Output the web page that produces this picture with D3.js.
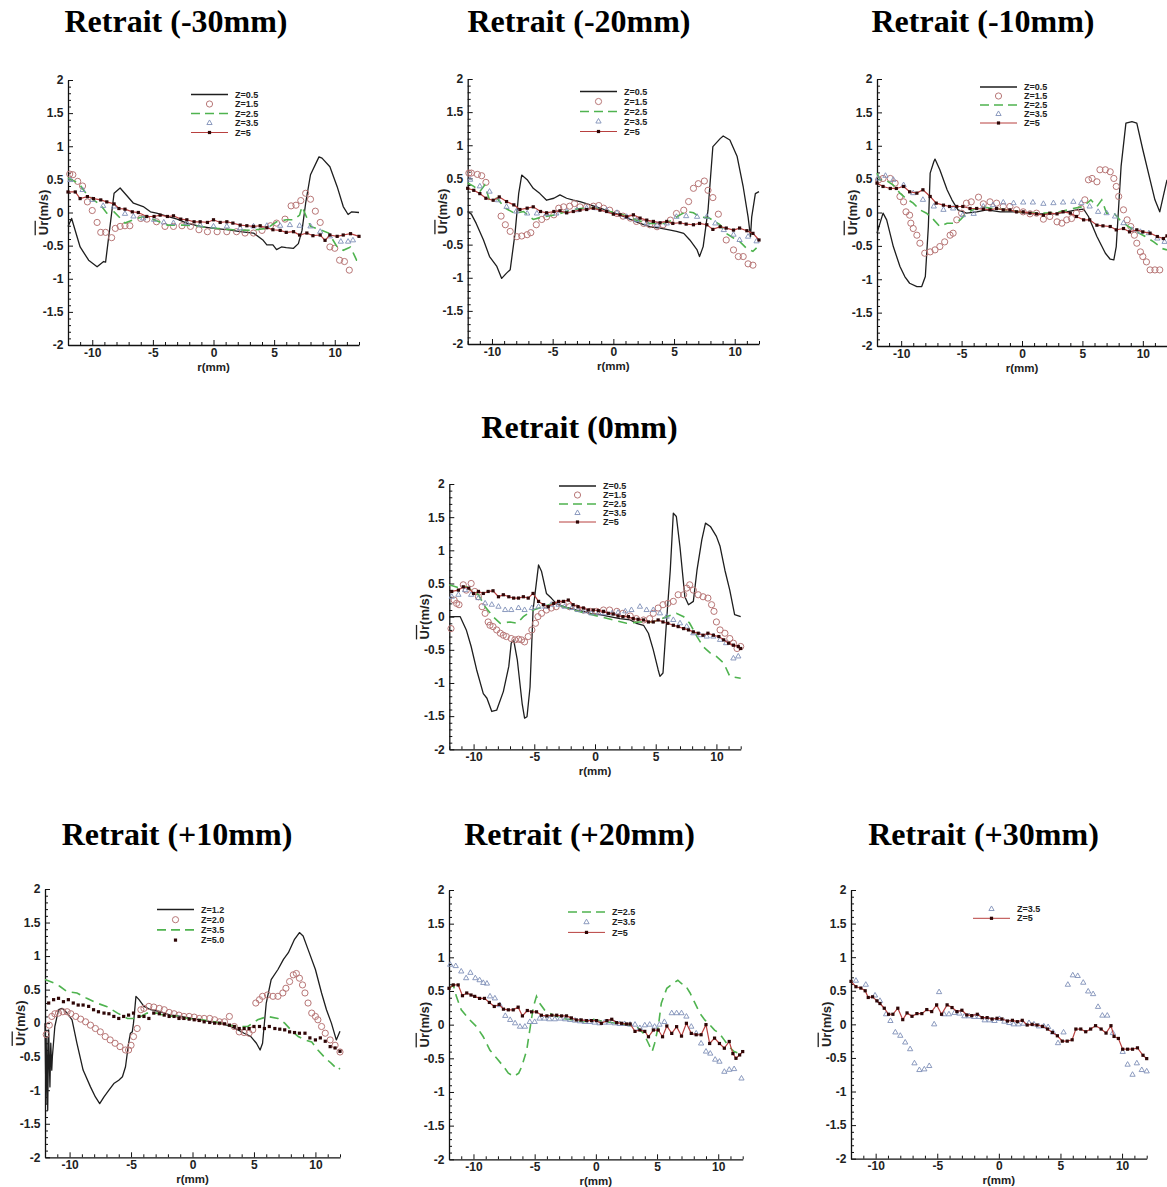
<!DOCTYPE html>
<html><head><meta charset="utf-8">
<script src="https://cdn.jsdelivr.net/npm/d3@7"></script>
<style>body{margin:0;background:#fff}</style>
</head><body>
<svg id="c" width="1167" height="1187" xmlns="http://www.w3.org/2000/svg"></svg>
<script>
// ---------------- DATA ----------------
const panelTitles = ["Retrait (-30mm)","Retrait (-20mm)","Retrait (-10mm)","Retrait (0mm)","Retrait (+10mm)","Retrait (+20mm)","Retrait (+30mm)"];
const xTickValues = [-10,-5,0,5,10];
const xTickLabels = ["-10","-5","0","5","10"];
const yTickValues = [-2,-1.5,-1,-0.5,0,0.5,1,1.5,2];
const yTickLabels = ["-2","-1.5","-1","-0.5","0","0.5","1","1.5","2"];
const xLabel = "r(mm)";

// Panel 1 : Retrait (-30mm)
const p1_z05 = [[-12,-0.21],[-11.7,-0.09],[-11,-0.52],[-10.3,-0.72],[-9.6,-0.82],[-9.06,-0.74],[-8.9,-0.75],[-8.2,0.29],[-7.7,0.37],[-6.6,0.14],[-5.8,0.09],[-5.2,0.01],[-4.7,-0.01],[-3.8,-0.06],[-3.0,-0.1],[-2.2,-0.16],[-1.1,-0.21],[0,-0.24],[1.1,-0.26],[2.2,-0.29],[3.3,-0.31],[4.1,-0.42],[4.4,-0.49],[4.9,-0.49],[5.2,-0.56],[5.6,-0.52],[6.0,-0.53],[6.6,-0.54],[7.0,-0.47],[7.3,-0.27],[7.6,0.14],[8.0,0.57],[8.7,0.84],[8.95,0.82],[9.6,0.69],[10.2,0.39],[10.7,0.09],[11.1,-0.03],[11.4,0.01],[12,0]];
const p1_z15 = [[-11.86,0.58],[-11.6,0.57],[-11.2,0.47],[-10.8,0.4],[-10.4,0.16],[-10,0.03],[-9.6,-0.15],[-9.3,-0.3],[-8.9,-0.3],[-8.4,-0.38],[-8.1,-0.24],[-7.7,-0.21],[-7.3,-0.2],[-6.9,-0.2],[-6.0,-0.09],[-5.5,-0.1],[-4.7,-0.14],[-4.0,-0.21],[-3.3,-0.21],[-2.6,-0.2],[-1.9,-0.21],[-1.2,-0.26],[-0.5,-0.29],[0.3,-0.29],[1.1,-0.29],[1.9,-0.29],[2.6,-0.31],[3.3,-0.31],[4.0,-0.27],[4.7,-0.2],[5.2,-0.16],[5.9,-0.1],[6.4,0.1],[6.8,0.11],[7.2,0.18],[7.6,0.29],[8.0,0.2],[8.4,0.02],[8.8,-0.15],[9.6,-0.52],[10.0,-0.54],[10.4,-0.72],[10.8,-0.74],[11.2,-0.87]];
const p1_z25 = [[-12,0.52],[-11.1,0.44],[-10.6,0.31],[-9.9,0.19],[-9.3,0.11],[-8.8,-0.01],[-8.2,0.01],[-7.3,-0.16],[-6.6,-0.11],[-5.8,-0.06],[-4.9,-0.11],[-3.8,-0.19],[-2.4,-0.19],[-1.1,-0.21],[0.3,-0.24],[1.6,-0.26],[3.0,-0.27],[4.4,-0.24],[5.2,-0.14],[6.0,-0.11],[6.6,-0.11],[7.1,-0.04],[7.3,0.09],[8.0,-0.21],[8.8,-0.26],[9.5,-0.31],[10.2,-0.52],[10.7,-0.57],[11.3,-0.52],[11.8,-0.72],[12,-0.72]];
const p1_z35 = [[-11.8,0.49],[-10.8,0.34],[-10.0,0.19],[-9.1,0.1],[-8.2,0.09],[-7.3,-0.02],[-6.6,-0.06],[-5.8,-0.09],[-4.9,-0.11],[-4.1,-0.15],[-3.3,-0.16],[-2.2,-0.16],[-1.1,-0.19],[0,-0.21],[1.1,-0.21],[2.2,-0.24],[3.3,-0.21],[4.4,-0.2],[5.5,-0.2],[6.3,-0.19],[7.1,-0.2],[8.0,-0.21],[8.8,-0.29],[9.6,-0.36],[10.5,-0.44],[11.1,-0.44],[11.5,-0.42]];
const p1_z5 = [[-12,0.31],[-11.4,0.31],[-11,0.21],[-10.4,0.24],[-9.9,0.21],[-9.3,0.19],[-8.8,0.16],[-8.2,0.13],[-7.8,0.06],[-7.3,0.05],[-6.7,0.01],[-6.2,0],[-5.5,-0.06],[-4.9,-0.06],[-4.4,-0.04],[-3.8,-0.06],[-3.3,-0.05],[-2.7,-0.1],[-2.2,-0.11],[-1.6,-0.14],[-1.1,-0.14],[-0.5,-0.15],[0,-0.11],[0.55,-0.15],[1.1,-0.14],[1.6,-0.16],[2.2,-0.19],[2.75,-0.2],[3.3,-0.21],[3.85,-0.2],[4.4,-0.23],[4.9,-0.26],[5.5,-0.27],[6.0,-0.3],[6.6,-0.29],[7.1,-0.34],[7.7,-0.31],[8.2,-0.35],[8.8,-0.34],[9.2,-0.42],[9.6,-0.34],[10.2,-0.36],[10.7,-0.34],[11.3,-0.32],[12,-0.36]];

// Panel 2 : Retrait (-20mm)
const p2_z05 = [[-12,0],[-11.7,-0.04],[-11.3,-0.18],[-10.7,-0.43],[-10.2,-0.68],[-9.6,-0.83],[-9.2,-1.01],[-8.8,-0.93],[-8.5,-0.88],[-8.1,-0.33],[-7.8,0.27],[-7.55,0.55],[-7.1,0.48],[-6.6,0.35],[-6.05,0.27],[-5.5,0.17],[-4.9,0.2],[-4.4,0.25],[-3.85,0.2],[-3.3,0.17],[-2.75,0.15],[-1.9,0.1],[-1.1,0.05],[-0.27,0],[0.55,-0.05],[1.4,-0.12],[2.2,-0.18],[3.0,-0.23],[3.85,-0.25],[4.7,-0.28],[5.2,-0.3],[5.8,-0.33],[6.3,-0.43],[6.9,-0.58],[7.1,-0.68],[7.4,-0.53],[7.8,0.02],[8.2,0.98],[8.8,1.1],[9.05,1.14],[9.6,1.08],[10.2,0.83],[10.7,0.37],[11.1,-0.08],[11.3,-0.38],[11.4,-0.08],[11.7,0.27],[12,0.3]];
const p2_z15 = [[-11.9,0.58],[-11.7,0.58],[-11.2,0.56],[-10.85,0.54],[-10.5,0.44],[-9.25,-0.07],[-8.9,-0.2],[-8.5,-0.3],[-7.95,-0.38],[-7.55,-0.37],[-7.1,-0.35],[-6.8,-0.32],[-6.35,-0.2],[-5.9,-0.12],[-5.5,-0.08],[-4.9,-0.05],[-4.5,0.05],[-4.1,0.07],[-3.6,0.08],[-3.2,0.12],[-2.75,0.07],[-2.2,0.07],[-1.65,0.08],[-1.2,0.09],[-0.8,0.05],[-0.3,0.02],[0.3,-0.03],[0.8,-0.07],[1.4,-0.1],[1.9,-0.15],[2.5,-0.18],[3.0,-0.2],[3.6,-0.23],[4.1,-0.2],[4.7,-0.13],[5.2,-0.03],[5.8,0.02],[6.2,0.15],[6.6,0.35],[7.0,0.42],[7.5,0.46],[7.8,0.32],[8.2,0.21],[8.65,-0.04],[9.3,-0.43],[9.9,-0.58],[10.3,-0.68],[10.7,-0.68],[11.1,-0.79],[11.5,-0.81]];
const p2_z25 = [[-12,0.43],[-11.5,0.38],[-11,0.3],[-10.6,0.4],[-10.2,0.17],[-9.6,0.2],[-8.9,0.05],[-8.1,-0.03],[-7.4,0],[-6.6,-0.12],[-5.8,-0.08],[-4.7,-0.05],[-3.6,0.02],[-2.5,0.05],[-1.4,0.05],[-0.3,0],[0.8,-0.05],[1.9,-0.13],[3.0,-0.18],[4.1,-0.18],[4.9,-0.13],[5.5,-0.05],[6.0,0],[6.6,-0.02],[7.1,-0.08],[7.9,-0.1],[8.8,-0.2],[9.3,-0.33],[9.9,-0.4],[10.4,-0.45],[11.0,-0.56],[11.5,-0.6],[11.8,-0.55]];
const p2_z35 = [[-11.8,0.48],[-11,0.38],[-10.2,0.3],[-9.5,0.17],[-8.8,0.07],[-8,0],[-7.1,-0.03],[-6.3,-0.03],[-5.5,-0.04],[-4.7,-0.03],[-3.85,0],[-3,0.02],[-2.2,0.05],[-1.4,0.05],[-0.55,0.02],[0.3,-0.02],[1.1,-0.08],[1.9,-0.13],[2.75,-0.18],[3.6,-0.2],[4.4,-0.18],[5.2,-0.08],[6.0,-0.07],[6.9,-0.08],[7.7,-0.08],[8.4,-0.18],[9.1,-0.28],[9.9,-0.35],[10.4,-0.43],[11.1,-0.38],[11.8,-0.45]];
const p2_z5 = [[-12,0.35],[-11.5,0.32],[-11,0.27],[-10.5,0.2],[-9.9,0.17],[-9.4,0.22],[-8.8,0.15],[-8.2,0.1],[-7.7,0.03],[-7.1,0.05],[-6.6,0.07],[-6,0],[-5.5,-0.02],[-4.9,0],[-4.4,0.01],[-3.85,-0.02],[-3.3,0],[-2.75,0.02],[-2.2,0.03],[-1.65,0.05],[-1.1,0.02],[-0.55,0],[0,-0.04],[0.55,-0.05],[1.1,-0.08],[1.65,-0.05],[2.2,-0.1],[2.75,-0.13],[3.3,-0.15],[3.85,-0.17],[4.4,-0.15],[4.9,-0.18],[5.5,-0.17],[6.0,-0.19],[6.6,-0.2],[7.1,-0.18],[7.7,-0.2],[8.2,-0.27],[8.8,-0.23],[9.3,-0.25],[9.9,-0.28],[10.4,-0.25],[11.0,-0.29],[11.5,-0.33],[12,-0.43]];

// Panel 3 : Retrait (-10mm)
const p3_z05 = [[-12,-0.31],[-11.75,-0.16],[-11.5,-0.01],[-11.2,-0.11],[-10.65,-0.51],[-10.1,-0.81],[-9.7,-0.96],[-9.3,-1.06],[-8.7,-1.11],[-8.3,-1.11],[-8.0,-0.96],[-7.75,-0.21],[-7.6,0.59],[-7.3,0.76],[-7.2,0.8],[-6.8,0.64],[-6.2,0.34],[-5.8,0.19],[-5.3,0.04],[-4.6,-0.01],[-3.75,0.01],[-2.9,0.04],[-1.8,0.01],[-0.7,0.01],[0.4,-0.01],[1.5,-0.02],[2.6,-0.02],[3.7,0.01],[4.5,0.04],[5.1,0.05],[5.5,-0.06],[6.2,-0.36],[6.9,-0.61],[7.3,-0.7],[7.6,-0.71],[7.8,-0.51],[8.2,0.69],[8.6,1.34],[9.1,1.36],[9.5,1.34],[10.0,0.94],[10.6,0.49],[11.0,0.19],[11.4,0.01],[11.75,0.29],[12,0.49]];
const p3_z15 = [[-11.86,0.49],[-11.5,0.51],[-10.9,0.51],[-10.5,0.44],[-10.1,0.24],[-9.8,0.16],[-9.6,0.01],[-9.3,-0.04],[-9.2,-0.16],[-9.0,-0.24],[-8.7,-0.34],[-8.45,-0.46],[-8.05,-0.61],[-7.6,-0.59],[-7.2,-0.56],[-6.8,-0.51],[-6.4,-0.44],[-5.95,-0.34],[-5.7,-0.31],[-5.4,-0.11],[-5.0,-0.01],[-4.6,0.14],[-4.2,0.16],[-3.6,0.23],[-3.2,0.13],[-2.65,0.16],[-2.1,0.14],[-1.55,0.09],[-1.0,0.09],[-0.45,0.04],[0.1,0.01],[0.66,-0.02],[1.2,-0.01],[1.77,-0.1],[2.3,-0.06],[2.9,-0.14],[3.3,-0.16],[3.7,-0.11],[4.1,-0.09],[4.5,-0.01],[4.9,0.06],[5.2,0.19],[5.5,0.49],[5.8,0.51],[6.2,0.46],[6.45,0.64],[6.9,0.64],[7.3,0.61],[7.6,0.51],[7.8,0.39],[8.0,0.24],[8.4,0.04],[8.7,-0.11],[9.0,-0.21],[9.3,-0.34],[9.5,-0.46],[9.8,-0.59],[10.0,-0.66],[10.3,-0.74],[10.6,-0.86],[11.0,-0.86],[11.4,-0.86]];
const p3_z25 = [[-12,0.59],[-11.75,0.49],[-11.3,0.49],[-10.65,0.41],[-10.1,0.29],[-9.6,0.21],[-9.0,0.14],[-8.45,0.04],[-7.9,-0.01],[-7.3,-0.11],[-6.8,-0.21],[-6.2,-0.16],[-5.7,-0.16],[-5.1,-0.11],[-4.6,-0.01],[-3.5,0.09],[-2.4,0.06],[-1.3,0.04],[-0.2,0.01],[0.9,-0.01],[2.0,-0.01],[3.1,0.01],[4.2,0.06],[5.1,0.09],[5.7,0.19],[6.2,0.09],[6.6,0.19],[7.0,-0.01],[7.6,-0.01],[8.1,-0.11],[8.8,-0.21],[9.5,-0.29],[10.2,-0.36],[10.9,-0.44],[11.6,-0.54],[12,-0.56]];
const p3_z35 = [[-11.9,0.51],[-11.3,0.55],[-10.65,0.49],[-9.8,0.41],[-9.0,0.29],[-8.2,0.19],[-7.3,0.09],[-6.5,0.04],[-5.7,0.06],[-4.9,-0.04],[-4.0,-0.02],[-3.2,0.09],[-2.4,0.11],[-1.55,0.15],[-0.7,0.14],[0.1,0.15],[0.9,0.15],[1.77,0.13],[2.6,0.14],[3.4,0.15],[4.25,0.16],[4.9,0.14],[5.6,0.09],[6.3,0.01],[7.0,-0.01],[7.7,-0.06],[8.4,-0.16],[9.1,-0.26],[9.8,-0.29],[10.5,-0.31],[11.2,-0.39],[11.8,-0.44]];
const p3_z5 = [[-12,0.44],[-11.5,0.39],[-10.9,0.36],[-10.4,0.36],[-9.8,0.39],[-9.3,0.31],[-8.7,0.29],[-8.2,0.34],[-7.6,0.24],[-7.1,0.14],[-6.5,0.11],[-6.0,0.09],[-5.4,0.09],[-4.9,0.09],[-4.3,0.06],[-3.75,0.06],[-3.2,0.05],[-2.65,0.04],[-2.1,0.06],[-1.55,0.04],[-1.0,0.04],[-0.45,0.01],[0.1,0.01],[0.66,-0.01],[1.2,-0.02],[1.77,-0.04],[2.3,-0.01],[2.9,-0.02],[3.4,0.01],[4.0,-0.01],[4.5,-0.06],[5.1,-0.11],[5.6,-0.11],[6.2,-0.19],[6.7,-0.2],[7.3,-0.21],[7.8,-0.26],[8.4,-0.24],[8.9,-0.29],[9.5,-0.26],[10.0,-0.29],[10.6,-0.31],[11.2,-0.36],[11.7,-0.39],[12,-0.35]];

// Panel 4 : Retrait (0mm)
const p4_z05 = [[-12,0],[-11.1,0],[-10.6,-0.2],[-10.2,-0.45],[-9.75,-0.8],[-9.2,-1.16],[-8.9,-1.23],[-8.5,-1.43],[-8.1,-1.41],[-7.55,-1.13],[-7.1,-0.75],[-6.9,-0.4],[-6.7,-0.35],[-6.4,-0.65],[-6.0,-1.31],[-5.8,-1.53],[-5.6,-1.51],[-5.35,-1.06],[-5.1,0.1],[-4.65,0.78],[-4.4,0.68],[-4.0,0.35],[-3.6,0.28],[-3.2,0.2],[-2.6,0.15],[-2.1,0.13],[-1.5,0.1],[-0.96,0.08],[-0.4,0.05],[0.4,0.03],[1.2,0],[2.05,-0.03],[2.9,-0.05],[3.4,-0.1],[4.0,-0.13],[4.4,-0.25],[4.8,-0.5],[5.2,-0.8],[5.35,-0.9],[5.6,-0.85],[5.9,-0.05],[6.2,0.7],[6.45,1.56],[6.7,1.51],[7.0,1.05],[7.4,0.3],[7.7,0.18],[8.1,0.23],[8.4,0.7],[8.8,1.16],[9.1,1.41],[9.5,1.36],[10.0,1.21],[10.3,1.06],[10.7,0.7],[11.1,0.4],[11.5,0.03],[12,0]];
const p4_z15 = [[-11.86,-0.18],[-11.6,0.25],[-11.4,0.2],[-11.2,0.18],[-10.85,0.48],[-10.6,0.4],[-10.2,0.5],[-9.9,0.38],[-9.6,0.3],[-9.3,0.15],[-9.05,0.05],[-8.8,-0.08],[-8.65,-0.13],[-8.4,-0.15],[-8.1,-0.2],[-7.8,-0.25],[-7.55,-0.28],[-7.3,-0.3],[-6.9,-0.33],[-6.6,-0.35],[-6.3,-0.34],[-6.05,-0.35],[-5.8,-0.38],[-5.5,-0.3],[-5.2,-0.2],[-4.9,-0.1],[-4.7,0],[-4.4,0.05],[-4.0,0.1],[-3.6,0.13],[-3.2,0.15],[-2.6,0.18],[-2.1,0.15],[-1.5,0.13],[-0.96,0.1],[-0.4,0.08],[0.14,0.08],[0.7,0.1],[1.2,0.1],[1.8,0.08],[2.3,0.05],[2.9,0.01],[3.4,-0.03],[4.0,-0.05],[4.5,-0.03],[4.8,0.05],[5.2,0.13],[5.6,0.18],[6.0,0.2],[6.45,0.23],[6.85,0.33],[7.3,0.33],[7.55,0.43],[7.8,0.48],[8.1,0.4],[8.5,0.33],[8.9,0.3],[9.3,0.28],[9.6,0.18],[9.8,0.08],[10.0,-0.08],[10.3,-0.2],[10.7,-0.25],[11.1,-0.33],[11.4,-0.4],[11.7,-0.48],[12,-0.45]];
const p4_z25 = [[-12,0.48],[-11.1,0.43],[-10.6,0.45],[-10.2,0.4],[-9.6,0.33],[-9.05,0.15],[-8.4,0],[-7.8,-0.1],[-7.0,-0.08],[-6.4,-0.1],[-5.9,0],[-5.1,0.1],[-4.25,0.15],[-3.4,0.2],[-2.6,0.15],[-1.8,0.1],[-0.7,0.05],[0.4,0],[1.5,-0.05],[2.6,-0.1],[3.7,-0.08],[4.8,-0.08],[5.9,0],[6.7,0.05],[7.3,0],[7.8,-0.1],[8.4,-0.3],[8.9,-0.45],[9.5,-0.55],[10.0,-0.6],[10.6,-0.7],[11.1,-0.9],[12,-0.93]];
const p4_z35 = [[-11.8,0.3],[-11.25,0.33],[-10.7,0.4],[-10.2,0.33],[-9.6,0.28],[-9.05,0.2],[-8.5,0.18],[-7.95,0.15],[-7.4,0.1],[-6.9,0.1],[-6.3,0.13],[-5.8,0.1],[-5.2,0.13],[-4.65,0.15],[-4.1,0.15],[-3.6,0.18],[-3.0,0.18],[-2.5,0.15],[-1.9,0.13],[-1.4,0.1],[-0.8,0.08],[-0.3,0.05],[0.3,0.05],[0.8,0.05],[1.4,0.05],[1.9,0.06],[2.5,0.08],[3.0,0.1],[3.7,0.15],[4.25,0.1],[4.8,0.1],[5.35,0.05],[5.9,0],[6.45,-0.05],[7.0,-0.1],[7.55,-0.15],[8.1,-0.25],[8.65,-0.28],[9.2,-0.3],[9.75,-0.3],[10.3,-0.35],[10.8,-0.4],[11.4,-0.63],[11.8,-0.6]];
const p4_z5 = [[-11.8,0.38],[-11.25,0.4],[-10.85,0.45],[-10.4,0.43],[-10.0,0.35],[-9.6,0.38],[-9.2,0.35],[-8.8,0.38],[-8.4,0.39],[-7.95,0.3],[-7.55,0.33],[-7.1,0.3],[-6.7,0.28],[-6.3,0.28],[-5.9,0.3],[-5.5,0.28],[-5.1,0.35],[-4.65,0.23],[-4.25,0.18],[-3.85,0.15],[-3.4,0.2],[-3.0,0.23],[-2.6,0.23],[-2.2,0.25],[-1.8,0.18],[-1.4,0.15],[-0.96,0.13],[-0.55,0.1],[-0.14,0.1],[0.27,0.09],[0.7,0.08],[1.1,0.05],[1.5,0.04],[1.9,0.01],[2.3,0],[2.75,0],[3.15,-0.03],[3.55,-0.04],[4.0,-0.05],[4.4,-0.08],[4.8,-0.08],[5.2,-0.05],[5.6,-0.08],[6.0,-0.1],[6.45,-0.13],[6.85,-0.15],[7.3,-0.18],[7.7,-0.2],[8.1,-0.23],[8.5,-0.25],[8.9,-0.28],[9.3,-0.25],[9.75,-0.28],[10.2,-0.3],[10.6,-0.35],[11.0,-0.4],[11.4,-0.43],[11.8,-0.45],[12,-0.48]];

// Panel 5 : Retrait (+10mm)
const p5_z12 = [[-12,0],[-11.92,-1.2],[-11.85,-0.2],[-11.78,-1.3],[-11.7,-0.1],[-11.6,-0.95],[-11.53,-0.3],[-11.45,-0.7],[-11.4,-0.5],[-11.2,-0.05],[-10.9,0.2],[-10.6,0.22],[-10.2,0.15],[-9.8,0.05],[-9.4,-0.3],[-8.9,-0.7],[-8.3,-0.95],[-7.9,-1.1],[-7.55,-1.2],[-7.2,-1.1],[-6.8,-1.0],[-6.4,-0.9],[-6.0,-0.85],[-5.7,-0.8],[-5.45,-0.65],[-5.2,-0.3],[-5.05,-0.15],[-4.9,-0.13],[-4.8,0],[-4.6,0.4],[-4.35,0.35],[-3.95,0.25],[-3.4,0.2],[-2.6,0.17],[-1.8,0.12],[-0.95,0.1],[-0.14,0.07],[0.7,0.05],[1.5,0.02],[2.3,0],[3.1,-0.05],[3.7,-0.1],[4.2,-0.15],[4.75,-0.2],[5.2,-0.3],[5.5,-0.4],[5.7,-0.3],[6.0,0.3],[6.4,0.65],[6.95,0.8],[7.4,0.95],[7.8,1.05],[8.3,1.25],[8.7,1.35],[9.0,1.3],[9.4,1.1],[10.0,0.8],[10.5,0.45],[10.9,0.2],[11.3,0],[11.7,-0.25],[12,-0.12]];
const p5_z20 = [[-11.9,-0.17],[-11.65,-0.03],[-11.45,0.1],[-11.2,0.14],[-10.9,0.15],[-10.55,0.17],[-10.2,0.17],[-9.9,0.14],[-9.5,0.1],[-9.1,0.06],[-8.7,0.02],[-8.3,-0.03],[-7.9,-0.08],[-7.5,-0.13],[-7.1,-0.2],[-6.7,-0.25],[-6.3,-0.3],[-5.9,-0.35],[-5.45,-0.4],[-5.2,-0.4],[-5.0,-0.33],[-4.8,-0.2],[-4.5,-0.08],[-4.2,0.2],[-3.95,0.22],[-3.55,0.25],[-3.15,0.24],[-2.7,0.22],[-2.3,0.2],[-1.9,0.16],[-1.5,0.14],[-1.1,0.12],[-0.7,0.1],[-0.27,0.1],[0.14,0.09],[0.55,0.07],[0.95,0.07],[1.4,0.07],[1.8,0.05],[2.2,0.02],[2.6,0.02],[3.0,0.1],[3.4,-0.05],[3.8,-0.13],[4.2,-0.14],[4.6,-0.15],[4.9,-0.1],[5.15,0.3],[5.45,0.35],[5.7,0.4],[6.1,0.42],[6.55,0.4],[6.95,0.4],[7.35,0.45],[7.6,0.52],[7.9,0.62],[8.2,0.72],[8.45,0.74],[8.7,0.67],[8.95,0.57],[9.15,0.45],[9.4,0.3],[9.7,0.15],[10.0,0.1],[10.2,0.05],[10.5,-0.05],[10.8,-0.15],[11.2,-0.25],[11.6,-0.33],[12,-0.43]];
const p5_z35 = [[-12,0.65],[-11.3,0.6],[-10.8,0.55],[-10.2,0.47],[-9.4,0.45],[-8.6,0.37],[-7.8,0.3],[-7.0,0.25],[-6.1,0.15],[-5.3,0.07],[-4.5,0.07],[-3.7,0.15],[-2.9,0.15],[-2.05,0.1],[-1.2,0.11],[-0.4,0.07],[0.4,0.06],[1.2,0.04],[2.05,0.01],[2.9,-0.03],[3.7,-0.05],[4.5,-0.05],[5.3,0.05],[6.1,0.1],[6.95,0.07],[7.5,0],[8.0,-0.1],[8.6,-0.2],[9.15,-0.25],[9.7,-0.28],[10.2,-0.4],[10.8,-0.52],[11.3,-0.6],[11.85,-0.7],[12,-0.67]];
const p5_z50 = [[-11.7,0.3],[-11.3,0.35],[-10.9,0.37],[-10.5,0.32],[-10.1,0.35],[-9.7,0.3],[-9.3,0.27],[-8.9,0.27],[-8.45,0.25],[-8.05,0.2],[-7.65,0.17],[-7.2,0.15],[-6.8,0.14],[-6.4,0.1],[-6.0,0.07],[-5.6,0.1],[-5.2,0.12],[-4.8,0.15],[-4.35,0.1],[-3.95,0.1],[-3.55,0.07],[-3.15,0.15],[-2.7,0.14],[-2.3,0.12],[-1.9,0.1],[-1.5,0.1],[-1.1,0.07],[-0.7,0.07],[-0.27,0.06],[0.14,0.05],[0.55,0.04],[0.95,0.02],[1.4,0.01],[1.8,0],[2.2,0],[2.6,-0.01],[3.0,-0.03],[3.4,-0.05],[3.8,-0.08],[4.2,-0.08],[4.6,-0.08],[5.0,-0.05],[5.45,-0.05],[5.85,-0.08],[6.25,-0.05],[6.7,-0.08],[7.1,-0.09],[7.5,-0.1],[7.9,-0.13],[8.3,-0.14],[8.7,-0.15],[9.15,-0.15],[9.55,-0.22],[10.0,-0.25],[10.4,-0.22],[10.8,-0.27],[11.2,-0.35],[11.6,-0.37],[12,-0.42]];

// Panel 6 : Retrait (+20mm)
const p6_z25 = [[-12,0.54],[-11.65,0.59],[-11.4,0.42],[-11.0,0.22],[-10.3,0.07],[-9.75,-0.03],[-9.2,-0.18],[-8.65,-0.38],[-8.1,-0.5],[-7.55,-0.62],[-7.15,-0.72],[-6.7,-0.77],[-6.3,-0.72],[-6.05,-0.62],[-5.65,-0.38],[-5.4,-0.08],[-5.1,0.27],[-4.85,0.42],[-4.6,0.32],[-4.2,0.22],[-3.5,0.14],[-2.7,0.09],[-1.85,0.07],[-1.0,0.04],[-0.5,0.09],[0.05,0.07],[0.9,0.04],[1.7,0.02],[2.5,0],[3.35,-0.03],[3.9,-0.13],[4.3,-0.28],[4.6,-0.4],[4.8,-0.28],[5.1,-0.03],[5.35,0.32],[5.8,0.54],[6.3,0.61],[6.7,0.66],[7.0,0.61],[7.3,0.59],[7.7,0.47],[8.1,0.32],[8.5,0.17],[8.9,0.07],[9.3,0],[9.7,-0.08],[10.1,-0.13],[10.5,-0.23],[10.9,-0.33],[11.3,-0.4],[11.75,-0.43],[12,-0.4]];
const p6_z35 = [[-11.9,0.89],[-11.45,0.87],[-11.0,0.79],[-10.6,0.69],[-10.25,0.77],[-9.85,0.69],[-9.5,0.66],[-9.2,0.62],[-8.9,0.61],[-8.65,0.42],[-8.25,0.39],[-7.85,0.29],[-7.4,0.13],[-7.0,0.07],[-6.6,0.02],[-6.2,-0.03],[-5.8,-0.03],[-5.4,0.04],[-5.0,0.04],[-4.6,0.09],[-4.2,0.09],[-3.8,0.08],[-3.35,0.08],[-2.9,0.09],[-2.5,0.08],[-2.1,0.07],[-1.7,0.06],[-1.3,0.05],[-0.9,0.04],[-0.5,0.04],[-0.1,0.03],[0.3,0.02],[0.7,0.03],[1.1,0.03],[1.55,0.02],[1.95,0.01],[2.35,0.01],[2.8,0],[3.2,0],[3.6,-0.05],[4.0,-0.01],[4.4,0],[4.8,-0.03],[5.2,0],[5.6,0.04],[6.2,0.17],[6.6,0.17],[7.0,0.17],[7.4,0.12],[7.8,-0.03],[8.2,-0.13],[8.6,-0.28],[9.0,-0.4],[9.35,-0.43],[9.75,-0.52],[10.1,-0.55],[10.5,-0.7],[10.9,-0.67],[11.3,-0.66],[11.9,-0.8]];
const p6_z5 = [[-12,0.54],[-11.65,0.59],[-11.25,0.59],[-10.9,0.43],[-10.55,0.47],[-10.2,0.44],[-9.9,0.42],[-9.5,0.39],[-9.1,0.39],[-8.7,0.33],[-8.3,0.27],[-7.9,0.3],[-7.55,0.23],[-7.15,0.22],[-6.75,0.22],[-6.35,0.26],[-6.0,0.13],[-5.6,0.21],[-5.25,0.19],[-4.85,0.19],[-4.45,0.14],[-4.0,0.13],[-3.6,0.14],[-3.2,0.14],[-2.8,0.13],[-2.4,0.13],[-2.0,0.1],[-1.6,0.07],[-1.2,0.07],[-0.75,0.06],[-0.35,0.06],[0.05,0.06],[0.45,0.02],[0.9,0.06],[1.3,0.08],[1.7,0.03],[2.1,0.02],[2.5,0.01],[2.8,0.01],[3.2,-0.1],[3.6,-0.08],[4.0,-0.1],[4.3,-0.18],[4.7,-0.08],[5.1,-0.08],[5.45,-0.18],[5.8,-0.02],[6.2,-0.13],[6.6,-0.03],[7.0,-0.17],[7.4,0.02],[7.8,-0.13],[8.2,-0.15],[8.6,-0.15],[9.0,0],[9.3,-0.28],[9.7,-0.2],[10.1,-0.28],[10.5,-0.35],[10.9,-0.25],[11.2,-0.43],[11.45,-0.5],[11.75,-0.45],[12,-0.4]];

// Panel 7 : Retrait (+30mm)
const p7_z35 = [[-11.6,0.65],[-10.8,0.59],[-10.05,0.43],[-9.65,0.35],[-9.15,0.15],[-8.8,0.05],[-8.4,-0.12],[-8.0,-0.17],[-7.6,-0.27],[-7.2,-0.37],[-6.85,-0.58],[-6.45,-0.68],[-6.05,-0.67],[-5.65,-0.62],[-5.25,0],[-4.85,0.48],[-4.45,0.15],[-4.05,0.15],[-3.6,0.17],[-3.2,0.16],[-2.8,0.12],[-2.4,0.12],[-2.0,0.11],[-1.6,0.11],[-1.15,0.06],[-0.75,0.06],[-0.35,0.05],[0.05,0.08],[0.45,0.04],[0.85,0.02],[1.2,0],[1.6,0],[2.0,0.01],[2.45,0.02],[2.85,0],[3.25,-0.03],[3.65,-0.03],[4.0,-0.04],[4.4,-0.12],[4.8,-0.28],[5.25,-0.12],[5.6,0.59],[6.0,0.73],[6.4,0.72],[6.85,0.62],[7.25,0.49],[7.65,0.45],[8.05,0.26],[8.4,0.13],[8.8,0.13],[9.25,-0.13],[10.05,-0.41],[10.45,-0.6],[10.85,-0.75],[11.2,-0.58],[11.6,-0.68],[12,-0.7]];
const p7_z5 = [[-12,0.64],[-11.6,0.56],[-11.2,0.54],[-10.85,0.5],[-10.6,0.4],[-10.25,0.41],[-9.9,0.35],[-9.65,0.31],[-9.3,0.24],[-8.95,0.15],[-8.6,0.15],[-8.2,0.24],[-7.8,0.07],[-7.45,0.17],[-7.05,0.12],[-6.65,0.16],[-6.25,0.16],[-5.85,0.22],[-5.45,0.19],[-5.05,0.29],[-4.65,0.15],[-4.2,0.29],[-3.8,0.25],[-3.4,0.19],[-3.0,0.21],[-2.6,0.14],[-2.2,0.13],[-1.75,0.15],[-1.35,0.1],[-0.95,0.1],[-0.55,0.08],[-0.15,0.09],[0.25,0.08],[0.7,0.05],[1.1,0.06],[1.5,0.04],[1.9,0.06],[2.3,-0.01],[2.7,0],[3.1,-0.01],[3.55,-0.03],[3.95,-0.07],[4.35,-0.12],[4.75,-0.17],[5.15,-0.25],[5.55,-0.25],[5.95,-0.23],[6.25,-0.07],[6.65,-0.07],[7.05,-0.11],[7.45,-0.07],[7.85,-0.02],[8.3,-0.07],[8.7,-0.13],[9.1,-0.02],[9.35,-0.18],[9.7,-0.21],[10.05,-0.37],[10.45,-0.37],[10.85,-0.37],[11.25,-0.35],[11.7,-0.46],[12,-0.51]];

// Series labels per panel
const p1_labels = ["Z=0.5","Z=1.5","Z=2.5","Z=3.5","Z=5"];
const p5_labels = ["Z=1.2","Z=2.0","Z=3.5","Z=5.0"];
const p6_labels = ["Z=2.5","Z=3.5","Z=5"];
const p7_labels = ["Z=3.5","Z=5"];

// ---------------- BUILD ----------------
const panels = [
  {title: panelTitles[0], series: [p1_z05,p1_z15,p1_z25,p1_z35,p1_z5], labels: p1_labels, kinds: ["line","circle","dash","tri","sqline"]},
  {title: panelTitles[1], series: [p2_z05,p2_z15,p2_z25,p2_z35,p2_z5], labels: p1_labels, kinds: ["line","circle","dash","tri","sqline"]},
  {title: panelTitles[2], series: [p3_z05,p3_z15,p3_z25,p3_z35,p3_z5], labels: p1_labels, kinds: ["line","circle","dash","tri","sqline"]},
  {title: panelTitles[3], series: [p4_z05,p4_z15,p4_z25,p4_z35,p4_z5], labels: p1_labels, kinds: ["line","circle","dash","tri","sqline"]},
  {title: panelTitles[4], series: [p5_z12,p5_z20,p5_z35,p5_z50], labels: p5_labels, kinds: ["line","circle","dash","sq"]},
  {title: panelTitles[5], series: [p6_z25,p6_z35,p6_z5], labels: p6_labels, kinds: ["dash","tri","sqline"]},
  {title: panelTitles[6], series: [p7_z35,p7_z5], labels: p7_labels, kinds: ["tri","sqline"]}
];

// layout (pixels)
const layout = [
  {l:68,   r:359,   t:80,  b:345,   tx:176, ty:32,  lx:191, ly:94.5, ld:9.5},
  {l:467.7,r:759,   t:79,  b:344,   tx:579, ty:32,  lx:580, ly:91.5, ld:10},
  {l:877,  r:1167,  t:79,  b:346,   tx:983, ty:32,  lx:980, ly:87,   ld:9},
  {l:449.3,r:740.7, t:484, b:749.3, tx:579.5,ty:438,lx:559, ly:486,  ld:9},
  {l:45,   r:340,   t:889, b:1157.3,tx:177, ty:845, lx:157, ly:909.5,ld:10.2},
  {l:449,  r:742.7, t:890, b:1159.3,tx:579.5,ty:845,lx:568, ly:912,  ld:10.2},
  {l:851,  r:1146.7,t:890, b:1158.7,tx:983.5,ty:845,lx:973, ly:909,  ld:9.3}
];

const STY = {
  black: "#1e1e1e", circ: "#b87676", green: "#4fb34f", tri: "#7f90b8", redline: "#b8403f", sq: "#2e0606"
};

const svg = d3.select("#c");
svg.append("rect").attr("width",1167).attr("height",1187).attr("fill","#fff");

const triPath = d3.symbol().type(d3.symbolTriangle).size(12);

function drawMarker(g, kind, px, py) {
  if (kind === "circle") {
    g.append("circle").attr("cx",px).attr("cy",py).attr("r",3.1)
      .attr("fill","none").attr("stroke",STY.circ).attr("stroke-width",1);
  } else if (kind === "tri") {
    g.append("path").attr("d",triPath()).attr("transform",`translate(${px},${py})`)
      .attr("fill","none").attr("stroke",STY.tri).attr("stroke-width",0.9);
  } else if (kind === "sq" || kind === "sqline") {
    g.append("rect").attr("x",px-1.6).attr("y",py-1.6).attr("width",3.2).attr("height",3.2)
      .attr("fill",STY.sq);
  }
}

panels.forEach((p, i) => {
  const L = layout[i];
  const x = d3.scaleLinear().domain([-12,12]).range([L.l, L.r]);
  const y = d3.scaleLinear().domain([-2,2]).range([L.b, L.t]);
  const g = svg.append("g");

  // title
  svg.append("text").attr("x",L.tx).attr("y",L.ty).attr("text-anchor","middle")
    .attr("font-family","'Liberation Serif','Times New Roman',serif").attr("font-weight","bold")
    .attr("font-size",32).attr("fill","#000").text(p.title);

  // minor ticks
  const yMinor = d3.range(-20,21).map(v=>v/10).filter(v=>Math.abs(v*2-Math.round(v*2))>1e-6);
  const xMinor = d3.range(-12,13).filter(v=>v%5!==0);
  g.append("g").attr("transform",`translate(${L.l},0)`)
    .call(d3.axisLeft(y).tickValues(yMinor).tickSize(-3).tickFormat(""))
    .call(a=>a.select(".domain").remove());
  g.append("g").attr("transform",`translate(0,${L.b})`)
    .call(d3.axisBottom(x).tickValues(xMinor).tickSize(-3).tickFormat(""))
    .call(a=>a.select(".domain").remove());

  // major axes
  g.append("g").attr("transform",`translate(${L.l},0)`)
    .call(d3.axisLeft(y).tickValues(yTickValues).tickSize(-5).tickSizeOuter(0).tickPadding(4.5)
      .tickFormat((d,k)=>yTickLabels[k]));
  g.append("g").attr("transform",`translate(0,${L.b})`)
    .call(d3.axisBottom(x).tickValues(xTickValues).tickSize(-5).tickSizeOuter(0).tickPadding(3)
      .tickFormat((d,k)=>xTickLabels[k]));
  g.selectAll(".tick line").attr("stroke","#111").attr("stroke-width",1);
  g.selectAll(".domain").attr("stroke","#111").attr("stroke-width",1.3);
  g.selectAll(".tick text").attr("font-family","'Liberation Sans',Arial,sans-serif")
    .attr("font-size",12).attr("font-weight","bold").attr("fill","#222");

  // axis titles
  g.append("text").attr("x",x(0)).attr("y",L.b+25.5).attr("text-anchor","middle")
    .attr("font-family","'Liberation Sans',Arial,sans-serif").attr("font-weight","bold")
    .attr("font-size",11.5).attr("fill","#222").text(xLabel);
  const yl = g.append("text").attr("transform",`translate(${L.l-25},${(L.t+L.b)/2}) rotate(-90)`)
    .attr("text-anchor","middle").attr("dy","0.35em")
    .attr("font-family","'Liberation Sans',Arial,sans-serif").attr("font-weight","bold")
    .attr("font-size",13).attr("fill","#222");
  yl.append("tspan").style("text-decoration","overline").text("Ur");
  yl.append("tspan").text("(m/s)");

  // series
  const line = d3.line().x(d=>x(d[0])).y(d=>y(d[1]));
  const sg = svg.append("g");
  p.series.forEach((data, j) => {
    const kind = p.kinds[j];
    if (kind === "line") {
      sg.append("path").datum(data).attr("d",line).attr("fill","none")
        .attr("stroke",STY.black).attr("stroke-width",1.3).attr("stroke-linejoin","round");
    } else if (kind === "dash") {
      sg.append("path").datum(data).attr("d",line).attr("fill","none")
        .attr("stroke",STY.green).attr("stroke-width",1.6).attr("stroke-dasharray","9,6");
    } else if (kind === "sqline") {
      sg.append("path").datum(data).attr("d",line).attr("fill","none")
        .attr("stroke",STY.redline).attr("stroke-width",1.2);
      data.forEach(d=>drawMarker(sg,kind,x(d[0]),y(d[1])));
    } else {
      data.forEach(d=>drawMarker(sg,kind,x(d[0]),y(d[1])));
    }
  });

  // legend
  const lg = svg.append("g");
  p.labels.forEach((lab, j) => {
    const kind = p.kinds[j];
    const yy = L.ly + j*L.ld;
    const x0 = L.lx, x1 = L.lx + 37, xm = (x0+x1)/2;
    if (kind === "line") {
      lg.append("line").attr("x1",x0).attr("x2",x1).attr("y1",yy).attr("y2",yy).attr("stroke",STY.black).attr("stroke-width",1.3);
    } else if (kind === "dash") {
      lg.append("line").attr("x1",x0).attr("x2",x1).attr("y1",yy).attr("y2",yy).attr("stroke",STY.green).attr("stroke-width",1.6).attr("stroke-dasharray","9,5");
    } else if (kind === "sqline") {
      lg.append("line").attr("x1",x0).attr("x2",x1).attr("y1",yy).attr("y2",yy).attr("stroke",STY.redline).attr("stroke-width",1);
      drawMarker(lg,kind,xm,yy);
    } else {
      drawMarker(lg,kind,xm,yy);
    }
    lg.append("text").attr("x",L.lx+44).attr("y",yy).attr("dy","0.35em")
      .attr("font-family","'Liberation Sans',Arial,sans-serif").attr("font-weight","bold")
      .attr("font-size",9).attr("fill","#222").text(lab);
  });
});
</script>
</body></html>
